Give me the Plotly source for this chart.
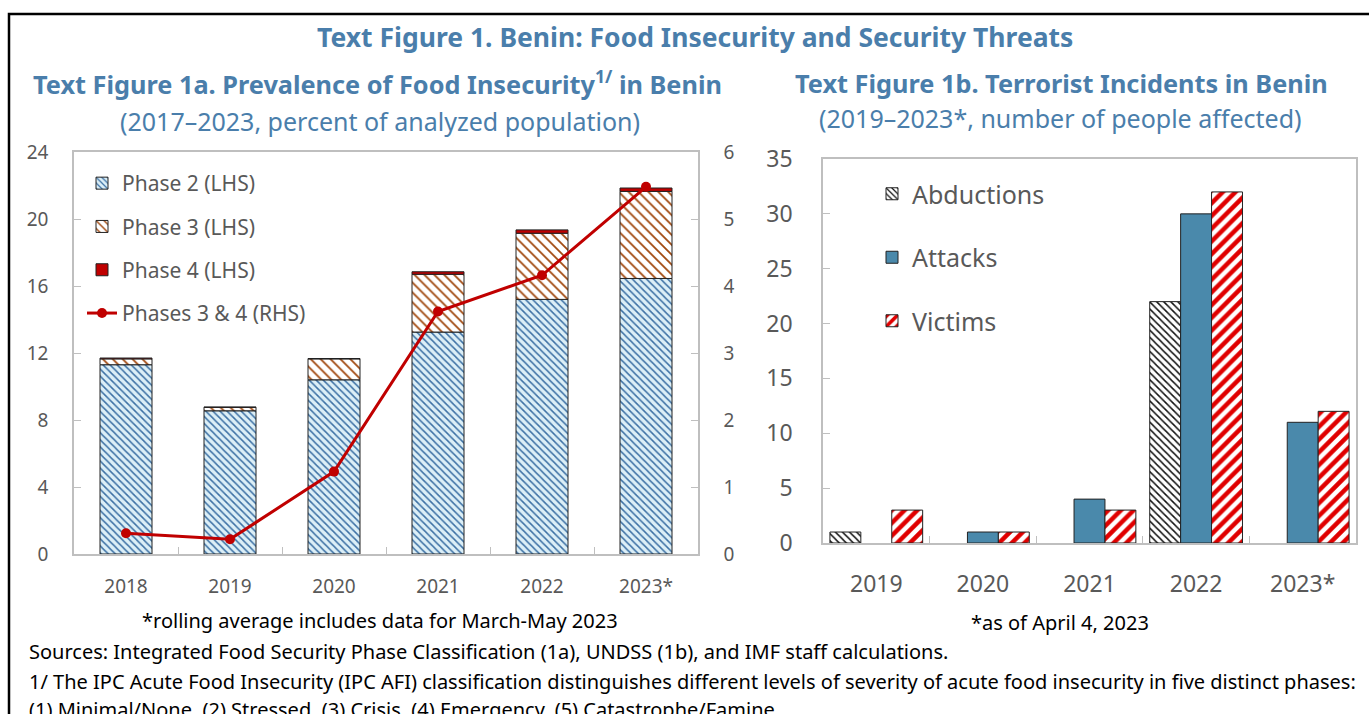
import plotly.graph_objects as go
import numpy as np

# ---------------- data ----------------
years_a = ["2018", "2019", "2020", "2021", "2022", "2023*"]
phase2 = [11.3, 8.55, 10.4, 13.25, 15.2, 16.45]
phase3 = [0.35, 0.2, 1.25, 3.45, 3.95, 5.2]
phase4 = [0.05, 0.03, 0.02, 0.15, 0.2, 0.2]
phases34 = [0.31, 0.22, 1.23, 3.62, 4.16, 5.48]

years_b = ["2019", "2020", "2021", "2022", "2023*"]
abductions = [1, None, None, 22, None]
attacks = [None, 1, 4, 30, 11]
victims = [3, 1, 3, 32, 12]

left_ticks = [0, 4, 8, 12, 16, 20, 24]
right_ticks = [0, 1, 2, 3, 4, 5, 6]
b_ticks = [0, 5, 10, 15, 20, 25, 30, 35]

# ---------------- layout helpers ----------------
W, H = 1369, 714
def px(x): return x / W
def py(y): return 1 - y / H

TITLE = "#4A7EAB"
GRAY = "#595959"
AXC = "#BFBFBF"
FONT = "Noto Sans"

base3 = np.array(phase2)
base4 = np.array(phase2) + np.array(phase3)

fig = go.Figure()

# left chart bars (stacked via explicit base)
fig.add_trace(go.Bar(
    x=years_a, y=phase2, name="Phase 2 (LHS)", xaxis="x", yaxis="y",
    width=0.5, offset=-0.25,
    marker=dict(color="#DCEFF7", line=dict(color="#222222", width=1),
                pattern=dict(shape="\\", fgcolor="#3C70A4", bgcolor="#DCEFF7",
                             size=5, solidity=0.3, fillmode="replace")),
    legend="legend", legendgroup="p2"))
fig.add_trace(go.Bar(
    x=years_a, y=phase3, base=base3, name="Phase 3 (LHS)", xaxis="x", yaxis="y",
    width=0.5, offset=-0.25,
    marker=dict(color="white", line=dict(color="#222222", width=1),
                pattern=dict(shape="\\", fgcolor="#A0470D", bgcolor="white",
                             size=7, solidity=0.25, fillmode="replace")),
    legend="legend", legendgroup="p3"))
fig.add_trace(go.Bar(
    x=years_a, y=phase4, base=base4, name="Phase 4 (LHS)", xaxis="x", yaxis="y",
    width=0.5, offset=-0.25,
    marker=dict(color="#C00000", line=dict(color="#222222", width=1)),
    legend="legend", legendgroup="p4"))
fig.add_trace(go.Scatter(
    x=years_a, y=phases34, name="Phases 3 & 4 (RHS)", xaxis="x", yaxis="y2",
    mode="lines+markers", line=dict(color="#C00000", width=3),
    marker=dict(color="#C00000", size=10),
    legend="legend", legendgroup="p34"))

# right chart bars (grouped via explicit offsets)
fig.add_trace(go.Bar(
    x=years_b, y=abductions, name="Abductions", xaxis="x3", yaxis="y3",
    width=0.29, offset=-0.435,
    marker=dict(color="white", line=dict(color="#222222", width=1),
                pattern=dict(shape="\\", fgcolor="#111111", bgcolor="white",
                             size=5, solidity=0.3, fillmode="replace")),
    legend="legend2", legendgroup="ab"))
fig.add_trace(go.Bar(
    x=years_b, y=attacks, name="Attacks", xaxis="x3", yaxis="y3",
    width=0.29, offset=-0.145,
    marker=dict(color="#4A89AB", line=dict(color="#222222", width=1)),
    legend="legend2", legendgroup="at"))
fig.add_trace(go.Bar(
    x=years_b, y=victims, name="Victims", xaxis="x3", yaxis="y3",
    width=0.29, offset=0.145,
    marker=dict(color="white", line=dict(color="#222222", width=1),
                pattern=dict(shape="/", fgcolor="#E00000", bgcolor="white",
                             size=9, solidity=0.5, fillmode="replace")),
    legend="legend2", legendgroup="vi"))

tickfont_a = dict(family=FONT, size=19, color=GRAY)
tickfont_b = dict(family=FONT, size=23, color=GRAY)

fig.update_layout(
    width=W, height=H,
    margin=dict(l=0, r=0, t=0, b=0, autoexpand=False),
    paper_bgcolor="white", plot_bgcolor="white",
    barmode="overlay",
    font=dict(family=FONT, color=GRAY),
    xaxis=dict(domain=[px(74), px(698)], anchor="y", type="category",
               showline=True, linecolor=AXC, linewidth=1.5, mirror=True,
               ticks="inside", tickson="boundaries", ticklen=7, tickcolor=AXC,
               tickfont=tickfont_a, ticklabelstandoff=14, showgrid=False),
    yaxis=dict(domain=[py(554), py(152)], anchor="x", range=[0, 24],
               tickvals=left_ticks, showline=True, linecolor=AXC, linewidth=1.5,
               mirror=True, ticks="inside", ticklen=7, tickcolor=AXC,
               tickfont=tickfont_a, ticklabelstandoff=20, showgrid=False,
               zeroline=False),
    yaxis2=dict(overlaying="y", side="right", anchor="x", range=[0, 6],
                tickvals=right_ticks, showline=True, linecolor=AXC, linewidth=1.5,
                ticks="inside", ticklen=7, tickcolor=AXC,
                tickfont=tickfont_a, ticklabelstandoff=20, showgrid=False,
                zeroline=False),
    xaxis3=dict(domain=[px(823), px(1356)], anchor="y3", type="category",
                showline=True, linecolor=AXC, linewidth=1.5, mirror=True,
                ticks="inside", tickson="boundaries", ticklen=7, tickcolor=AXC,
                tickfont=tickfont_b, ticklabelstandoff=20, showgrid=False),
    yaxis3=dict(domain=[py(543), py(159)], anchor="x3", range=[0, 35],
                tickvals=b_ticks, showline=True, linecolor=AXC, linewidth=1.5,
                mirror=True, ticks="inside", ticklen=7, tickcolor=AXC,
                tickfont=tickfont_b, ticklabelstandoff=24, showgrid=False,
                zeroline=False),
    legend=dict(x=px(82), y=py(163), xanchor="left", yanchor="top",
                bgcolor="rgba(0,0,0,0)", traceorder="grouped", tracegroupgap=13,
                font=dict(family=FONT, size=21, color=GRAY), itemwidth=30),
    legend2=dict(x=px(872), y=py(171), xanchor="left", yanchor="top",
                 bgcolor="rgba(0,0,0,0)", traceorder="grouped", tracegroupgap=28,
                 font=dict(family=FONT, size=25, color=GRAY), itemwidth=30),
    shapes=[dict(type="rect", xref="paper", yref="paper",
                 x0=px(9), x1=1.02, y0=-0.05, y1=py(14),
                 line=dict(color="black", width=2.5), fillcolor="rgba(0,0,0,0)",
                 layer="below")],
)

def ann(text, x, y, size, color, bold=False, xanchor="center"):
    fig.add_annotation(text=f"<b>{text}</b>" if bold else text,
                       x=px(x), y=py(y), xref="paper", yref="paper",
                       xanchor=xanchor, yanchor="middle", showarrow=False,
                       font=dict(family=FONT, size=size, color=color))

ann("Text Figure 1. Benin: Food Insecurity and Security Threats", 695, 37, 26.5, TITLE, bold=True)
ann("Text Figure 1a. Prevalence of Food Insecurity<sup>1/</sup> in Benin", 378, 82, 25.3, TITLE, bold=True)
ann("(2017\u20132023, percent of analyzed population)", 380, 121, 25, TITLE)
ann("Text Figure 1b. Terrorist Incidents in Benin", 1061, 83, 25.3, TITLE, bold=True)
ann("(2019\u20132023*, number of people affected)", 1060, 118, 25, TITLE)
ann("*rolling average includes data for March-May 2023", 380, 620, 20, "black")
ann("*as of April 4, 2023", 1060, 622, 20, "black")
ann("Sources: Integrated Food Security Phase Classification (1a), UNDSS (1b), and IMF staff calculations.",
    27, 651, 20, "black", xanchor="left")
ann("1/ The IPC Acute Food Insecurity (IPC AFI) classification distinguishes different levels of severity of acute food insecurity in five distinct phases:",
    27, 681, 20, "black", xanchor="left")
ann("(1) Minimal/None, (2) Stressed, (3) Crisis, (4) Emergency, (5) Catastrophe/Famine.",
    27, 709, 20, "black", xanchor="left")

fig.write_html("out.html")
